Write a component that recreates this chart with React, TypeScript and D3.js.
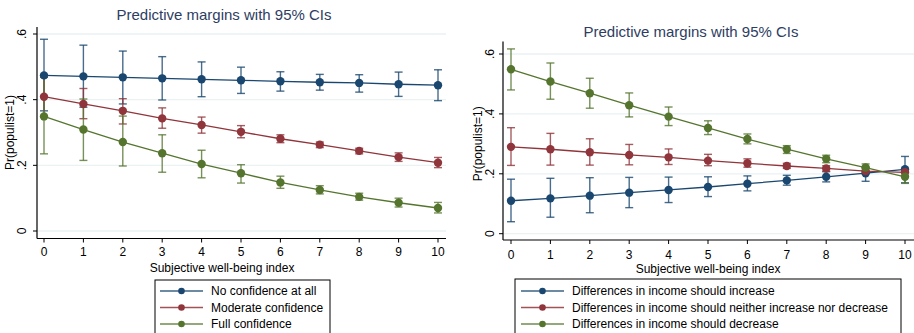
import React from "react";
import * as d3 from "d3";

const xs = [0, 1, 2, 3, 4, 5, 6, 7, 8, 9, 10];
const yTicks = [0, 0.2, 0.4, 0.6];
const yTickLabels = ["0", ".2", ".4", ".6"];

// Left panel
const leftNames = ["No confidence at all", "Moderate confidence", "Full confidence"];
const leftNoConf = [0.474, 0.471, 0.468, 0.465, 0.462, 0.459, 0.456, 0.453, 0.451, 0.447, 0.444];
const leftNoConfLo = [0.366, 0.377, 0.387, 0.399, 0.409, 0.419, 0.426, 0.429, 0.423, 0.41, 0.397];
const leftNoConfHi = [0.584, 0.566, 0.548, 0.531, 0.515, 0.499, 0.485, 0.477, 0.476, 0.484, 0.491];
const leftModConf = [0.409, 0.387, 0.366, 0.343, 0.323, 0.302, 0.281, 0.263, 0.244, 0.225, 0.208];
const leftModConfLo = [0.35, 0.342, 0.326, 0.313, 0.298, 0.284, 0.269, 0.254, 0.235, 0.212, 0.193];
const leftModConfHi = [0.468, 0.434, 0.403, 0.375, 0.347, 0.321, 0.293, 0.271, 0.252, 0.238, 0.224];
const leftFullConf = [0.349, 0.309, 0.271, 0.237, 0.204, 0.176, 0.148, 0.125, 0.104, 0.086, 0.07];
const leftFullConfLo = [0.235, 0.215, 0.198, 0.179, 0.162, 0.146, 0.13, 0.113, 0.094, 0.073, 0.055];
const leftFullConfHi = [0.468, 0.402, 0.35, 0.293, 0.246, 0.202, 0.167, 0.138, 0.115, 0.1, 0.087];

// Right panel
const rightNames = [
  "Differences in income should increase",
  "Differences in income should neither increase nor decrease",
  "Differences in income should decrease",
];
const rightIncrease = [0.11, 0.118, 0.127, 0.137, 0.146, 0.156, 0.167, 0.178, 0.19, 0.202, 0.215];
const rightIncreaseLo = [0.04, 0.055, 0.07, 0.087, 0.104, 0.124, 0.143, 0.162, 0.173, 0.175, 0.17];
const rightIncreaseHi = [0.182, 0.185, 0.187, 0.188, 0.189, 0.19, 0.193, 0.195, 0.207, 0.222, 0.258];
const rightNeither = [0.29, 0.282, 0.272, 0.263, 0.255, 0.244, 0.235, 0.226, 0.218, 0.209, 0.205];
const rightNeitherLo = [0.228, 0.229, 0.229, 0.23, 0.231, 0.227, 0.222, 0.218, 0.209, 0.201, 0.194];
const rightNeitherHi = [0.354, 0.335, 0.317, 0.298, 0.283, 0.265, 0.25, 0.235, 0.227, 0.219, 0.215];
const rightDecrease = [0.549, 0.508, 0.469, 0.429, 0.391, 0.353, 0.316, 0.282, 0.25, 0.221, 0.19];
const rightDecreaseLo = [0.48, 0.449, 0.419, 0.39, 0.361, 0.331, 0.3, 0.268, 0.237, 0.209, 0.168];
const rightDecreaseHi = [0.617, 0.57, 0.519, 0.47, 0.423, 0.377, 0.333, 0.294, 0.262, 0.233, 0.213];

const colors = ["#1a476f", "#90353b", "#55752f"];
const FONT = "'Liberation Sans', Arial, sans-serif";
const TITLE_COLOR = "#2e3d62";

type Series = { name: string; mean: number[]; lo: number[]; hi: number[]; color: string };

type PanelProps = {
  series: Series[];
  axisX: number;
  x0: number;
  x10: number;
  y0: number;
  y06: number;
  axisTop: number;
  axisBottom: number;
  plotRight: number;
  titleX: number;
  titleY: number;
  yTitleX: number;
  yTickLabelX: number;
  xTickLabelY: number;
  xTitleX: number;
  xTitleY: number;
  legend: { x: number; y: number; w: number; h: number; rowY: number[]; lineX1: number; lineX2: number; textX: number };
};

function Panel(p: PanelProps) {
  const x = d3.scaleLinear().domain([0, 10]).range([p.x0, p.x10]);
  const y = d3.scaleLinear().domain([0, 0.6]).range([p.y0, p.y06]);
  const line = d3
    .line<number>()
    .x((_, i) => x(xs[i]))
    .y((d) => y(d));
  const capW = 4;
  return (
    <g fontFamily={FONT}>
      <text x={p.titleX} y={p.titleY} textAnchor="middle" fontSize={15} fill={TITLE_COLOR}>
        Predictive margins with 95% CIs
      </text>
      {yTicks.map((t) => (
        <line key={"g" + t} x1={p.axisX} x2={p.plotRight} y1={y(t)} y2={y(t)} stroke="#eaf2f3" strokeWidth={1.3} />
      ))}
      {p.series.map((s) => (
        <g key={s.name}>
          {xs.map((xv, i) => (
            <g key={xv} stroke={s.color} strokeWidth={1.4} strokeOpacity={0.8}>
              <line x1={x(xv)} x2={x(xv)} y1={y(s.lo[i])} y2={y(s.hi[i])} />
              <line x1={x(xv) - capW} x2={x(xv) + capW} y1={y(s.lo[i])} y2={y(s.lo[i])} />
              <line x1={x(xv) - capW} x2={x(xv) + capW} y1={y(s.hi[i])} y2={y(s.hi[i])} />
            </g>
          ))}
        </g>
      ))}
      {p.series.map((s) => (
        <g key={"l" + s.name}>
          <path d={line(s.mean) || ""} fill="none" stroke={s.color} strokeWidth={1.3} />
          {xs.map((xv, i) => (
            <circle key={xv} cx={x(xv)} cy={y(s.mean[i])} r={4.2} fill={s.color} />
          ))}
        </g>
      ))}
      <line x1={p.axisX} x2={p.axisX} y1={p.axisTop} y2={p.axisBottom} stroke="#000" strokeWidth={1.2} />
      <line x1={p.axisX} x2={p.plotRight} y1={p.axisBottom} y2={p.axisBottom} stroke="#000" strokeWidth={1.2} />
      {yTicks.map((t, i) => (
        <g key={"yt" + t}>
          <line x1={p.axisX - 4} x2={p.axisX} y1={y(t)} y2={y(t)} stroke="#000" />
          <text
            transform={`translate(${p.yTickLabelX},${y(t)}) rotate(-90)`}
            textAnchor="middle"
            fontSize={12}
            fill="#000"
          >
            {yTickLabels[i]}
          </text>
        </g>
      ))}
      {xs.map((xv) => (
        <g key={"xt" + xv}>
          <line x1={x(xv)} x2={x(xv)} y1={p.axisBottom} y2={p.axisBottom + 4} stroke="#000" />
          <text x={x(xv)} y={p.xTickLabelY} textAnchor="middle" fontSize={12} fill="#000">
            {xv}
          </text>
        </g>
      ))}
      <text x={p.xTitleX} y={p.xTitleY} textAnchor="middle" fontSize={12} fill="#000">
        Subjective well-being index
      </text>
      <text
        transform={`translate(${p.yTitleX},${(p.y0 + p.y06) / 2}) rotate(-90)`}
        textAnchor="middle"
        fontSize={12}
        fill="#000"
      >
        Pr(populist=1)
      </text>
      <rect x={p.legend.x} y={p.legend.y} width={p.legend.w} height={p.legend.h} fill="#fff" stroke="#000" strokeWidth={1} />
      {p.series.map((s, i) => (
        <g key={"lg" + s.name}>
          <line
            x1={p.legend.lineX1}
            x2={p.legend.lineX2}
            y1={p.legend.rowY[i]}
            y2={p.legend.rowY[i]}
            stroke={s.color}
            strokeWidth={1.3}
            strokeOpacity={0.85}
          />
          <circle cx={(p.legend.lineX1 + p.legend.lineX2) / 2} cy={p.legend.rowY[i]} r={3.3} fill={s.color} />
          <text x={p.legend.textX} y={p.legend.rowY[i] + 4} fontSize={12} fill="#000">
            {s.name}
          </text>
        </g>
      ))}
    </g>
  );
}

export default function App() {
  const leftSeries: Series[] = [
    { name: leftNames[0], mean: leftNoConf, lo: leftNoConfLo, hi: leftNoConfHi, color: colors[0] },
    { name: leftNames[1], mean: leftModConf, lo: leftModConfLo, hi: leftModConfHi, color: colors[1] },
    { name: leftNames[2], mean: leftFullConf, lo: leftFullConfLo, hi: leftFullConfHi, color: colors[2] },
  ];
  const rightSeries: Series[] = [
    { name: rightNames[0], mean: rightIncrease, lo: rightIncreaseLo, hi: rightIncreaseHi, color: colors[0] },
    { name: rightNames[1], mean: rightNeither, lo: rightNeitherLo, hi: rightNeitherHi, color: colors[1] },
    { name: rightNames[2], mean: rightDecrease, lo: rightDecreaseLo, hi: rightDecreaseHi, color: colors[2] },
  ];
  return (
    <div style={{ position: "absolute", left: 0, top: 0 }}>
      <svg width={914} height={333} style={{ display: "block", background: "#fff" }}>
        <rect x={0} y={0} width={914} height={333} fill="#fff" />
        <Panel
          series={leftSeries}
          axisX={37}
          x0={44}
          x10={438}
          y0={231}
          y06={34}
          axisTop={27}
          axisBottom={238.5}
          plotRight={446}
          titleX={224}
          titleY={20}
          yTitleX={14}
          yTickLabelX={26}
          xTickLabelY={256}
          xTitleX={222}
          xTitleY={272}
          legend={{ x: 155, y: 280, w: 175, h: 60, rowY: [291, 307.5, 324], lineX1: 160, lineX2: 203, textX: 211 }}
        />
        <Panel
          series={rightSeries}
          axisX={503}
          x0={511}
          x10={905}
          y0={233.7}
          y06={54}
          axisTop={41.5}
          axisBottom={240}
          plotRight={914}
          titleX={691}
          titleY={37}
          yTitleX={482}
          yTickLabelX={494}
          xTickLabelY={258.5}
          xTitleX={708}
          xTitleY={272.5}
          legend={{ x: 515, y: 279, w: 386, h: 60, rowY: [291, 307.5, 324], lineX1: 521, lineX2: 564, textX: 572 }}
        />
      </svg>
    </div>
  );
}
